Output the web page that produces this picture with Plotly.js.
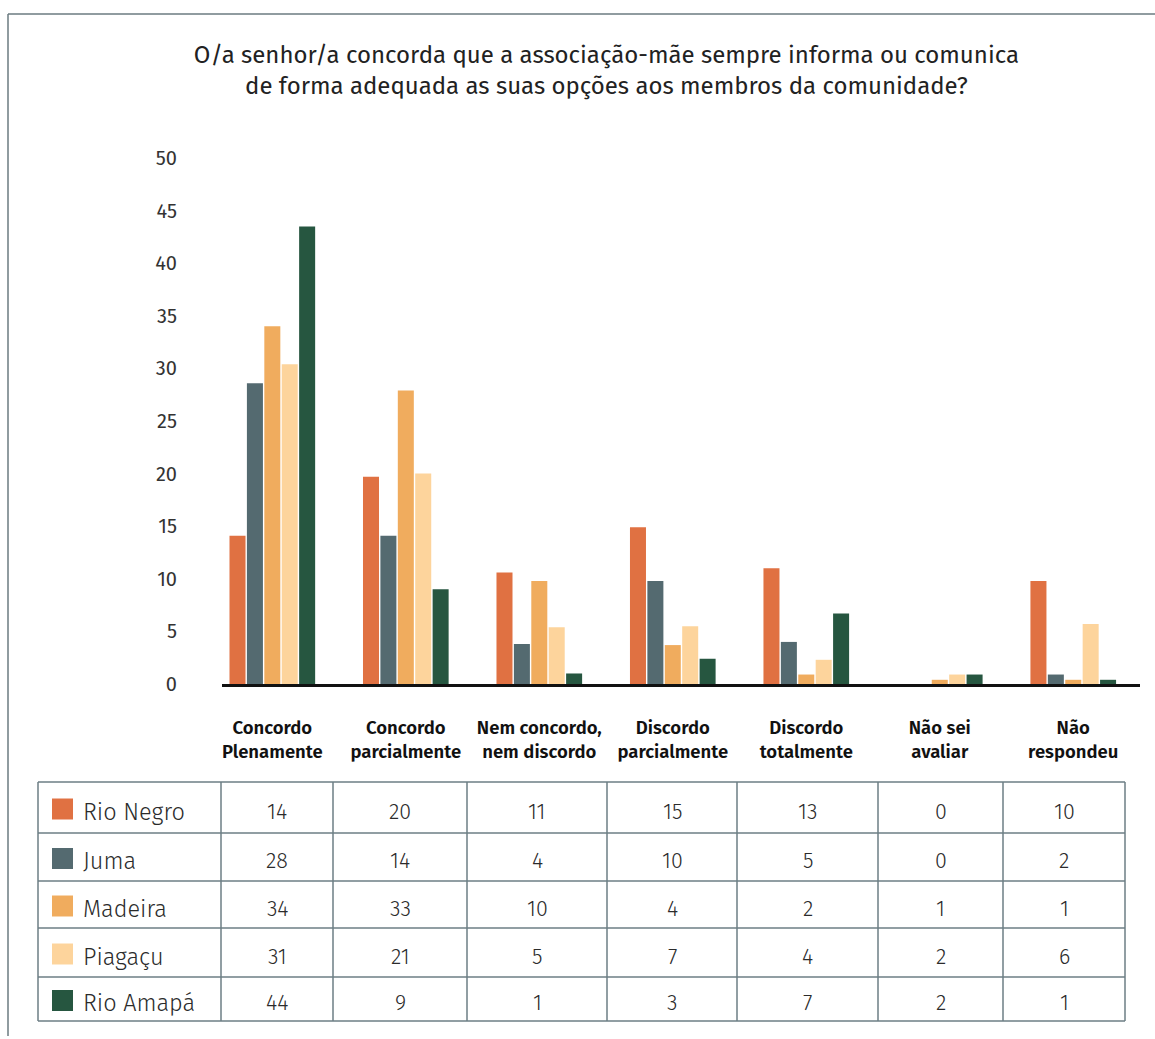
<!DOCTYPE html>
<html>
<head>
<meta charset="utf-8">
<script src="https://cdn.plot.ly/plotly-3.0.1.min.js"></script>
<style>html,body{margin:0;padding:0;background:#fff;}#chart{width:1155px;height:1039px;}</style>
</head>
<body>
<div id="chart"></div>
<script>
// ---- data ----
const categories = ["Concordo<br>Plenamente", "Concordo<br>parcialmente", "Nem concordo,<br>nem discordo", "Discordo<br>parcialmente", "Discordo<br>totalmente", "Não sei<br>avaliar", "Não<br>respondeu"];
const seriesNames = ["Rio Negro", "Juma", "Madeira", "Piagaçu", "Rio Amapá"];
// bar heights as drawn in the picture
const rioNegro = [14.1, 19.7, 10.6, 14.9, 11.0, 0, 9.8];
const juma     = [28.6, 14.1, 3.8, 9.8, 4.0, 0, 0.9];
const madeira  = [34.0, 27.9, 9.8, 3.7, 0.9, 0.4, 0.4];
const piagacu  = [30.4, 20.0, 5.4, 5.5, 2.3, 0.9, 5.7];
const rioAmapa = [43.5, 9.0, 1.0, 2.4, 6.7, 0.9, 0.4];
// values printed in the table
const tableRioNegro = [14, 20, 11, 15, 13, 0, 10];
const tableJuma     = [28, 14, 4, 10, 5, 0, 2];
const tableMadeira  = [34, 33, 10, 4, 2, 1, 1];
const tablePiagacu  = [31, 21, 5, 7, 4, 2, 6];
const tableRioAmapa = [44, 9, 1, 3, 7, 2, 1];
const yTicks = [0, 5, 10, 15, 20, 25, 30, 35, 40, 45, 50];

// ---- styles / layout constants ----
const colors = ["#E07142", "#546A70", "#F0AC5E", "#FDD49C", "#265640"];
const FONT = "'Fira Sans', 'Noto Sans', 'Open Sans', sans-serif";
const PL = 222, PR = 1140, PT = 158, PB = 684;
const xp = px => (px - PL) / (PR - PL);
const yp = py => (PB - py) / (PB - PT);
const colEdges = [38, 221, 333, 467, 607, 737, 878, 1003, 1125];
const rowEdges = [782, 833, 881, 928, 977, 1021];
const gridColor = "#6d7e85";

const barSeries = [rioNegro, juma, madeira, piagacu, rioAmapa];
const tableSeries = [tableRioNegro, tableJuma, tableMadeira, tablePiagacu, tableRioAmapa];

const traces = barSeries.map((vals, i) => ({
  type: "bar",
  name: seriesNames[i],
  x: categories,
  y: vals,
  marker: {color: colors[i], line: {width: 0}},
  hoverinfo: "skip"
}));

const shapes = [];
const annotations = [];

// outer frame (top and left)
shapes.push({type: "line", xref: "paper", yref: "paper", x0: xp(8), x1: xp(1160), y0: yp(14), y1: yp(14), line: {color: "#6b7b80", width: 1.5}});
shapes.push({type: "line", xref: "paper", yref: "paper", x0: xp(8), x1: xp(8), y0: yp(14), y1: yp(1036), line: {color: "#6b7b80", width: 1.5}});

// table grid
rowEdges.forEach(r => shapes.push({type: "line", xref: "paper", yref: "paper", x0: xp(colEdges[0]), x1: xp(colEdges[colEdges.length - 1]), y0: yp(r), y1: yp(r), line: {color: gridColor, width: 1.5}}));
colEdges.forEach(c => shapes.push({type: "line", xref: "paper", yref: "paper", x0: xp(c), x1: xp(c), y0: yp(rowEdges[0]), y1: yp(rowEdges[rowEdges.length - 1]), line: {color: gridColor, width: 1.5}}));

// table rows
seriesNames.forEach((name, i) => {
  const cy = (rowEdges[i] + rowEdges[i + 1]) / 2;
  shapes.push({type: "rect", xref: "paper", yref: "paper", x0: xp(52), x1: xp(73), y0: yp(cy - 9), y1: yp(cy + 12), fillcolor: colors[i], line: {width: 0}});
  annotations.push({xref: "paper", yref: "paper", x: xp(81), y: yp(cy + 4), xanchor: "left", yanchor: "middle", text: name, showarrow: false, font: {family: FONT, size: 23.5, color: "#2b2b2b", weight: 300}});
  tableSeries[i].forEach((v, j) => {
    const cx = (colEdges[j + 1] + colEdges[j + 2]) / 2;
    annotations.push({xref: "paper", yref: "paper", x: xp(cx), y: yp(cy + 4), xanchor: "center", yanchor: "middle", text: String(v), showarrow: false, font: {family: FONT, size: 21.5, color: "#2b2b2b", weight: 300}});
  });
});

const layout = {
  width: 1155, height: 1039,
  margin: {l: PL, r: 1155 - PR, t: PT, b: 1039 - PB, pad: 0},
  paper_bgcolor: "#fff", plot_bgcolor: "#fff",
  showlegend: false,
  barmode: "group",
  bargap: 0.348,
  bargroupgap: 0.08,
  title: {
    text: "O/a senhor/a concorda que a associação-mãe sempre informa ou comunica<br>de forma adequada as suas opções aos membros da comunidade?",
    font: {family: FONT, size: 24, color: "#222", weight: 400},
    x: 0.525, xref: "container", xanchor: "center",
    y: 1 - 63 / 1039, yref: "container", yanchor: "top"
  },
  xaxis: {
    type: "category",
    range: [-0.377, 6.5],
    showgrid: false, zeroline: false,
    showline: true, linecolor: "#111", linewidth: 2.5,
    ticks: "", ticklabelstandoff: 25,
    tickfont: {family: FONT, size: 18.5, color: "#111", weight: 600},
    fixedrange: true
  },
  yaxis: {
    range: [0, 50],
    tickvals: yTicks,
    showgrid: false, zeroline: false, showline: false,
    ticks: "", ticklabelstandoff: 44,
    tickfont: {family: FONT, size: 20, color: "#333", weight: 400},
    fixedrange: true
  },
  shapes: shapes,
  annotations: annotations
};

Plotly.newPlot("chart", traces, layout, {displayModeBar: false, staticPlot: true});
</script>
</body>
</html>
